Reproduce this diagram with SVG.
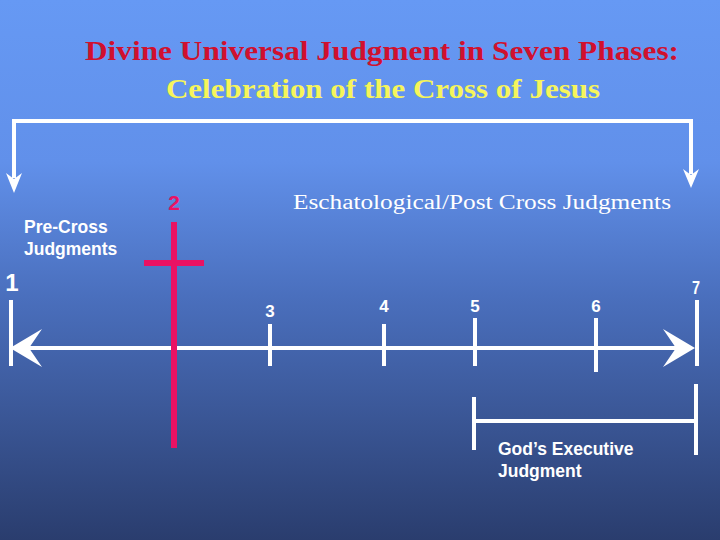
<svg xmlns="http://www.w3.org/2000/svg" width="720" height="540" viewBox="0 0 720 540">
<defs>
<linearGradient id="bg" x1="0" y1="0" x2="0" y2="1">
<stop offset="0" stop-color="#6699f4"/>
<stop offset="0.3" stop-color="#6190ea"/>
<stop offset="0.55" stop-color="#4a6fbd"/>
<stop offset="1" stop-color="#2a3d6e"/>
</linearGradient>
<style>
.w{stroke:#fff;stroke-width:4;fill:none}
.wt{fill:#fff;font-family:"Liberation Sans",Arial,sans-serif;font-weight:bold;font-size:17.5px}
.num{fill:#fff;font-family:"Liberation Sans",Arial,sans-serif;font-weight:bold;text-anchor:middle}
.pink{stroke:#ea1263;stroke-width:6;fill:none}
</style>
</defs>
<rect width="720" height="540" fill="url(#bg)"/>
<g id="title">
<text x="382" y="60" text-anchor="middle" font-family="Liberation Serif,serif" font-weight="bold" font-size="27" fill="#d0102e" textLength="594" lengthAdjust="spacingAndGlyphs">Divine Universal Judgment in Seven Phases:</text>
<text x="383" y="98" text-anchor="middle" font-family="Liberation Serif,serif" font-weight="bold" font-size="27" fill="#f6f55a" textLength="434" lengthAdjust="spacingAndGlyphs">Celebration of the Cross of Jesus</text>
</g>
<g id="connectors">
<polyline class="w" points="14,178 14,121 691,121 691,174"/>
<path d="M6,173 L14,179 L22,173 L14,193 Z" fill="#fff"/>
<path d="M683,169 L691,175 L699,169 L691,188 Z" fill="#fff"/>
<line class="w" x1="14" y1="348" x2="690" y2="348"/>
<path d="M10,348 L42,329 L29,348 L42,367 Z" fill="#fff"/>
<path d="M695,348 L663,329 L676,348 L663,367 Z" fill="#fff"/>
<line class="w" x1="11" y1="300" x2="11" y2="366"/>
<line class="w" x1="697" y1="300" x2="697" y2="366"/>
<line class="w" x1="270" y1="324" x2="270" y2="366"/>
<line class="w" x1="384" y1="324" x2="384" y2="366"/>
<line class="w" x1="475" y1="318" x2="475" y2="366"/>
<line class="w" x1="596" y1="318" x2="596" y2="372"/>
<line class="w" x1="474" y1="397" x2="474" y2="450"/>
<line class="w" x1="474" y1="421" x2="695" y2="421"/>
<line class="w" x1="696" y1="384" x2="696" y2="455"/>
</g>
<g id="cross">
<line class="pink" x1="174" y1="222" x2="174" y2="448"/>
<line class="pink" x1="144" y1="263" x2="204" y2="263"/>
<text x="174" y="210" text-anchor="middle" font-family="Liberation Sans,Arial,sans-serif" font-weight="bold" font-size="21" fill="#ea1263">2</text>
</g>
<g id="labels">
<text class="wt" x="24" y="233">Pre-Cross</text>
<text class="wt" x="24" y="255">Judgments</text>
<text x="293" y="209" font-family="Liberation Serif,serif" font-size="20" fill="#fff" textLength="378" lengthAdjust="spacingAndGlyphs">Eschatological/Post Cross Judgments</text>
<text class="wt" x="498" y="455">God’s Executive</text>
<text class="wt" x="498" y="477">Judgment</text>
</g>
<g id="numbers">
<text class="num" x="12" y="291" style="font-size:24px">1</text>
<text class="num" x="270" y="317" style="font-size:17px">3</text>
<text class="num" x="384" y="312" style="font-size:17px">4</text>
<text class="num" x="475" y="312" style="font-size:17px">5</text>
<text class="num" x="596" y="312" style="font-size:17px">6</text>
<text class="num" x="696" y="294" style="font-size:19px" textLength="8" lengthAdjust="spacingAndGlyphs">7</text>
</g>
</svg>
